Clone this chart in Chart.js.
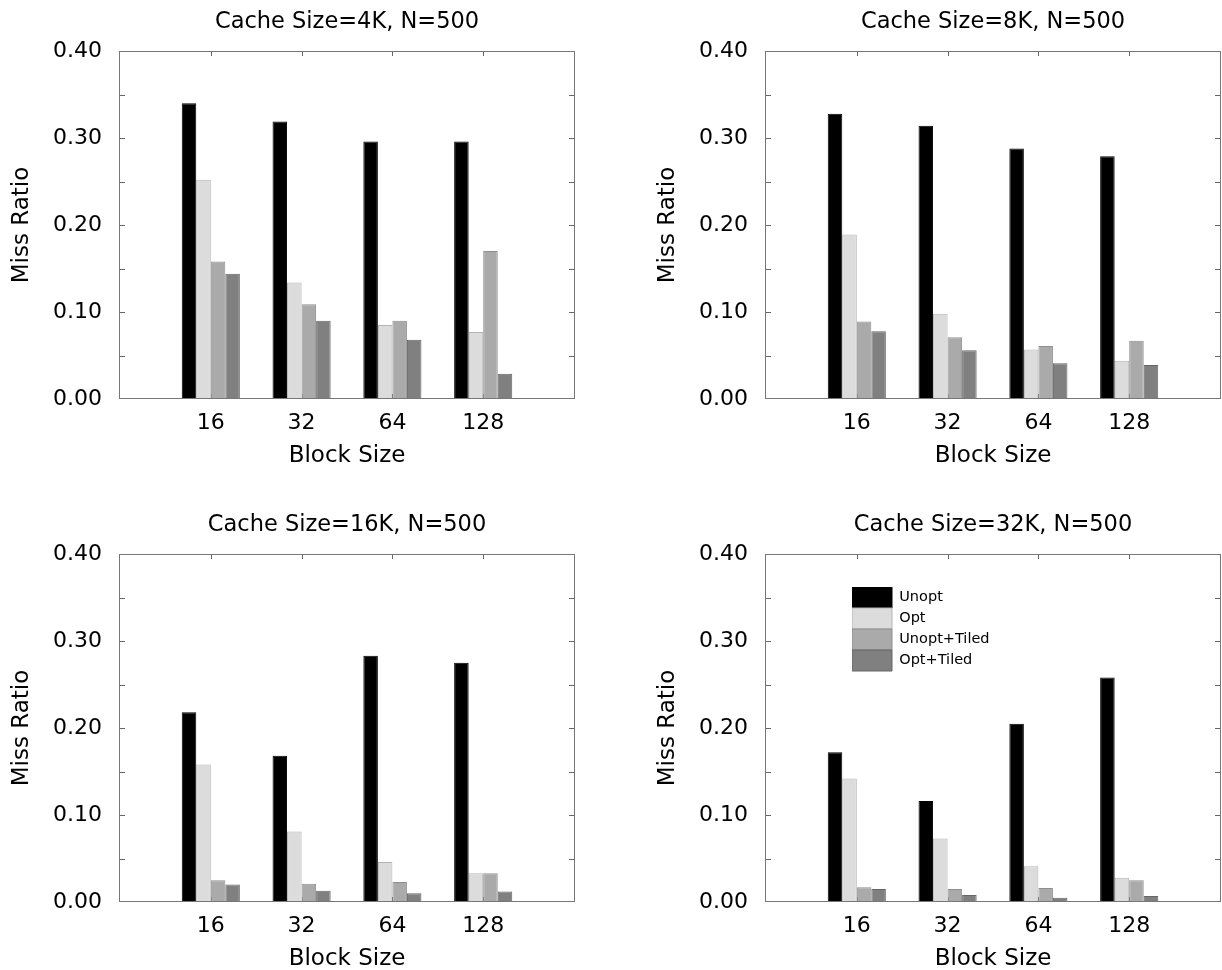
<!DOCTYPE html>
<html>
<head>
<meta charset="utf-8">
<script src="https://cdn.jsdelivr.net/npm/chart.js@4.4.1/dist/chart.umd.min.js"></script>
<style>
  body { margin: 0; background: #fff; width: 1222px; height: 970px; position: relative; overflow: hidden; }
  canvas { position: absolute; }
</style>
</head>
<body>
<canvas id="c4k" width="576" height="467" style="left:0;top:0"></canvas>
<canvas id="c8k" width="576" height="467" style="left:646px;top:0"></canvas>
<canvas id="c16k" width="576" height="467" style="left:0;top:503px"></canvas>
<canvas id="c32k" width="576" height="467" style="left:646px;top:503px"></canvas>
<script>
const blockSizes = ['16', '32', '64', '128'];
const seriesNames = ['Unopt', 'Opt', 'Unopt+Tiled', 'Opt+Tiled'];
const seriesColors = ['#000000', '#dcdcdc', '#aaaaaa', '#808080'];
const seriesBorders = ['#000000', '#b4b4b4', '#8e8e8e', '#666666'];
const yTicks = [0, 0.1, 0.2, 0.3, 0.4];

// Cache Size=4K
const unopt4K = [0.340, 0.319, 0.296, 0.296];
const opt4K = [0.252, 0.134, 0.085, 0.077];
const unoptTiled4K = [0.158, 0.109, 0.090, 0.170];
const optTiled4K = [0.144, 0.090, 0.068, 0.029];
// Cache Size=8K
const unopt8K = [0.328, 0.314, 0.288, 0.279];
const opt8K = [0.189, 0.098, 0.057, 0.044];
const unoptTiled8K = [0.089, 0.071, 0.061, 0.067];
const optTiled8K = [0.078, 0.056, 0.041, 0.039];
// Cache Size=16K
const unopt16K = [0.218, 0.168, 0.283, 0.275];
const opt16K = [0.158, 0.081, 0.046, 0.033];
const unoptTiled16K = [0.025, 0.021, 0.023, 0.033];
const optTiled16K = [0.020, 0.013, 0.010, 0.012];
// Cache Size=32K
const unopt32K = [0.172, 0.116, 0.205, 0.258];
const opt32K = [0.142, 0.073, 0.041, 0.028];
const unoptTiled32K = [0.017, 0.015, 0.016, 0.025];
const optTiled32K = [0.015, 0.008, 0.005, 0.007];

Chart.defaults.font.family = "'DejaVu Sans', sans-serif";
Chart.defaults.color = '#000';

// inward tick marks and the box round the plot
const framePlugin = {
    id: 'frame',
    beforeDatasetsDraw(chart) {
        const { ctx, chartArea: a, scales: { x, y } } = chart;
        ctx.save();
        ctx.strokeStyle = '#666';
        ctx.lineWidth = 1;
        ctx.beginPath();
        for (let v = 0.05; v < 0.399; v += 0.05) {
            const py = Math.round(y.getPixelForValue(v)) + 0.5;
            ctx.moveTo(a.left, py); ctx.lineTo(a.left + 5, py);
            ctx.moveTo(a.right, py); ctx.lineTo(a.right - 5, py);
        }
        for (let i = 1; i <= blockSizes.length; i++) {
            const px = Math.round(x.getPixelForValue(i)) + 0.5;
            ctx.moveTo(px, a.top); ctx.lineTo(px, a.top + 5);
            ctx.moveTo(px, a.bottom); ctx.lineTo(px, a.bottom - 5);
        }
        ctx.stroke();
        ctx.restore();
    },
    afterDatasetsDraw(chart) {
        const { ctx, chartArea: a } = chart;
        ctx.save();
        ctx.strokeStyle = '#777';
        ctx.lineWidth = 1;
        ctx.strokeRect(Math.round(a.left) - 0.5, Math.round(a.top) + 0.5,
            Math.round(a.right - a.left) + 1, Math.round(a.bottom - a.top) - 1);
        ctx.restore();
    }
};

// put the legend box at a spot inside the plot area
const legendShift = {
    id: 'legendShift',
    afterLayout(chart, args, opts) {
        const lg = chart.legend;
        if (!lg || opts.dx == null) return;
        const w = lg.width, h = lg.height;
        lg.left = chart.chartArea.left + opts.dx; lg.right = lg.left + w;
        lg.top = chart.chartArea.top + opts.dy; lg.bottom = lg.top + h;
    }
};

function makeChart(id, title, series, showLegend) {
    const labels = ['', ...blockSizes, ''];
    const datasets = series.map((vals, i) => ({
        label: seriesNames[i],
        data: [null, ...vals, null],
        backgroundColor: seriesColors[i],
        borderColor: seriesBorders[i],
        borderWidth: 1,
        categoryPercentage: 0.64,
        barPercentage: 1.0
    }));
    new Chart(document.getElementById(id), {
        type: 'bar',
        data: { labels: labels, datasets: datasets },
        plugins: [framePlugin, legendShift],
        options: {
            responsive: false,
            animation: false,
            devicePixelRatio: 1,
            layout: { padding: { left: 0, right: 2, top: 0, bottom: 0 } },
            plugins: {
                title: { display: false },
                legend: {
                    display: showLegend,
                    position: 'chartArea',
                    align: 'start',
                    labels: {
                        boxWidth: 40,
                        boxHeight: 21,
                        padding: 0,
                        font: { size: 14.5 },
                        color: '#000'
                    }
                },
                legendShift: { dx: 86, dy: 33 },
                tooltip: { enabled: false }
            },
            scales: {
                x: {
                    offset: false,
                    grid: { display: false, drawTicks: false },
                    border: { display: false },
                    ticks: { font: { size: 22 }, padding: 11, maxRotation: 0, autoSkip: false },
                    title: { display: true, text: 'Block Size', font: { size: 23 }, padding: { top: 0, bottom: -2.6 } },
                    afterFit: s => { s.height = 68; s.paddingLeft = 0; s.paddingRight = 0; }
                },
                // top axis only carries the panel title, centred over the plot
                xTop: {
                    type: 'category',
                    labels: labels,
                    position: 'top',
                    offset: false,
                    grid: { display: false, drawTicks: false },
                    border: { display: false },
                    ticks: { display: false },
                    title: { display: true, text: title, font: { size: 22.5 }, padding: { top: 8.3, bottom: 0 } },
                    afterFit: s => { s.height = 51; s.paddingLeft = 0; s.paddingRight = 0; }
                },
                y: {
                    min: 0,
                    max: 0.4,
                    grid: { display: false, drawTicks: false },
                    border: { display: false },
                    afterBuildTicks: s => { s.ticks = yTicks.map(v => ({ value: v })); },
                    ticks: { font: { size: 22 }, padding: 18, callback: v => v.toFixed(2) },
                    title: { display: true, text: 'Miss Ratio', font: { size: 23 }, padding: { top: 8, bottom: 0 } },
                    afterFit: s => { s.width = 120; }
                }
            }
        }
    });
}

makeChart('c4k', 'Cache Size=4K, N=500', [unopt4K, opt4K, unoptTiled4K, optTiled4K], false);
makeChart('c8k', 'Cache Size=8K, N=500', [unopt8K, opt8K, unoptTiled8K, optTiled8K], false);
makeChart('c16k', 'Cache Size=16K, N=500', [unopt16K, opt16K, unoptTiled16K, optTiled16K], false);
makeChart('c32k', 'Cache Size=32K, N=500', [unopt32K, opt32K, unoptTiled32K, optTiled32K], true);
</script>
</body>
</html>
